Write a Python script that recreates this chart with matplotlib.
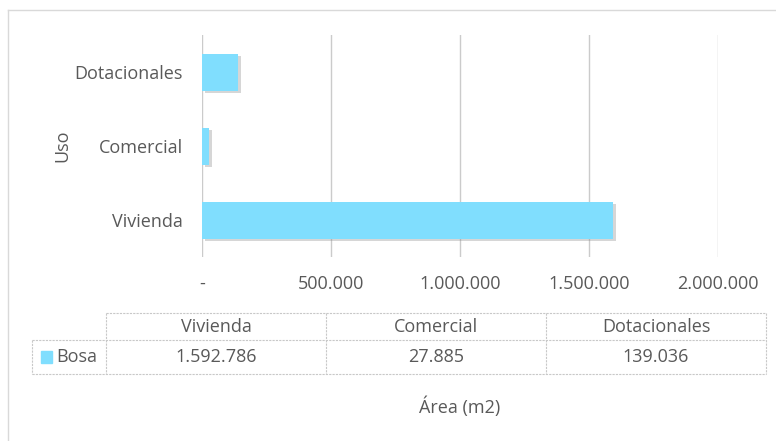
import matplotlib
matplotlib.use('Agg')
import matplotlib.pyplot as plt
import matplotlib.patheffects as pe
from matplotlib.lines import Line2D
from matplotlib.patches import Rectangle

categorias = ['Vivienda', 'Comercial', 'Dotacionales']
area_bosa = [1592786, 27885, 139036]
serie = 'Bosa'
xticks = [0, 500000, 1000000, 1500000, 2000000]

color_barra = '#80DEFE'
gris_texto = '#595959'
gris_linea = '#D9D9D9'
gris_grid = '#CBCBCB'
fs = 13

plt.rcParams['font.family'] = ['Open Sans', 'DejaVu Sans']
plt.rcParams['font.size'] = fs


def fmt_miles(v):
    if v == 0:
        return '-'
    return '{:,}'.format(int(v)).replace(',', '.')


W, H = 776, 441
fig = plt.figure(figsize=(W / 100, H / 100), dpi=100)


def fx(x):
    return x / W


def fy(y):
    return 1 - y / H


# marco exterior
fig.add_artist(Line2D([fx(7.5), fx(7.5)], [fy(10), 0], color=gris_linea, lw=1))
fig.add_artist(Line2D([fx(7.5), 1], [fy(10), fy(10)], color=gris_linea, lw=1))

ax = fig.add_axes([fx(202), fy(257), fx(718) - fx(202), fy(35) - fy(257)])
ys = range(len(categorias))
bars = ax.barh(ys, area_bosa, height=0.5, color=color_barra, zorder=3)
for b in bars:
    b.set_path_effects([pe.SimplePatchShadow(offset=(2, -2), shadow_rgbFace='#8a8a8a', alpha=0.35),
                        pe.Normal()])

ax.set_xlim(0, 2000000)
ax.set_ylim(-0.5, 2.5)
ax.set_xticks(xticks)
ax.set_xticklabels([fmt_miles(v) for v in xticks])
ax.set_yticks(list(ys))
ax.set_yticklabels(categorias)
ax.tick_params(axis='both', length=0, colors=gris_texto, labelsize=fs)
ax.tick_params(axis='x', pad=13)
ax.tick_params(axis='y', pad=14)
ax.grid(axis='x', color=gris_grid, lw=1, zorder=0)
for s in ax.spines.values():
    s.set_visible(False)

fig.text(fx(62), fy(146), 'Uso', rotation=90, ha='center', va='center',
         color=gris_texto, fontsize=fs)

# tabla de datos
col_x = [106, 326, 546, 766]
fila_y = [313, 340, 374]
lkw = dict(color='#C8C8C8', lw=0.8, ls=(0, (2, 1)))
fig.add_artist(Line2D([fx(col_x[0]), fx(col_x[-1])], [fy(fila_y[0])] * 2, **lkw))
fig.add_artist(Line2D([fx(32), fx(col_x[-1])], [fy(fila_y[1])] * 2, **lkw))
fig.add_artist(Line2D([fx(32), fx(col_x[-1])], [fy(fila_y[2])] * 2, **lkw))
for cx in col_x:
    fig.add_artist(Line2D([fx(cx)] * 2, [fy(fila_y[0]), fy(fila_y[2])], **lkw))
fig.add_artist(Line2D([fx(32)] * 2, [fy(fila_y[1]), fy(fila_y[2])], **lkw))

for i, (c, v) in enumerate(zip(categorias, area_bosa)):
    xm = (col_x[i] + col_x[i + 1]) / 2
    fig.text(fx(xm), fy((fila_y[0] + fila_y[1]) / 2 + 1), c, ha='center', va='center',
             color=gris_texto, fontsize=fs)
    fig.text(fx(xm), fy((fila_y[1] + fila_y[2]) / 2), fmt_miles(v), ha='center', va='center',
             color=gris_texto, fontsize=fs)

ym = (fila_y[1] + fila_y[2]) / 2
fig.add_artist(Rectangle((fx(41), fy(ym + 6)), fx(11), 12 / H, color=color_barra))
fig.text(fx(56), fy(ym), serie, ha='left', va='center', color=gris_texto, fontsize=fs)

fig.text(fx(460), fy(407), 'Área (m2)', ha='center', va='center', color=gris_texto, fontsize=fs)

fig.savefig('out.png', dpi=100)
